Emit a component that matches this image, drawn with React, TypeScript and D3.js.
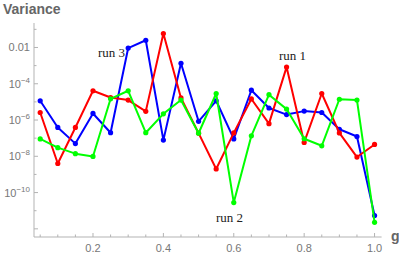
import React, { useEffect, useRef } from "react";
import * as d3 from "d3";

// g values shared by all runs
const gValues = [0.05, 0.1, 0.15, 0.2, 0.25, 0.3, 0.35, 0.4, 0.45, 0.5, 0.55, 0.6, 0.65, 0.7, 0.75, 0.8, 0.85, 0.9, 0.95, 1.0];

const run1 = [2.6e-6, 4.0e-9, 3.9e-7, 4.1e-5, 1.74e-5, 1.26e-5, 3.0e-6, 5.9e-2, 1.66e-5, 1.9e-7, 2.0e-9, 1.95e-7, 1.45e-5, 6.3e-7, 8.3e-4, 5.8e-8, 2.9e-5, 1.95e-7, 9.1e-9, 4.5e-8];
const run2 = [9.1e-8, 3.0e-8, 1.4e-8, 9.8e-9, 1.48e-5, 4.1e-5, 2.0e-7, 2.2e-6, 1.26e-5, 1.86e-7, 2.9e-5, 2.8e-11, 1.35e-7, 2.5e-5, 4.0e-6, 9.3e-8, 3.8e-8, 1.4e-5, 1.26e-5, 2.3e-12];
const run3 = [1.15e-5, 3.9e-7, 5.0e-8, 2.3e-6, 2.0e-7, 9.3e-3, 2.5e-2, 7.8e-8, 1.35e-3, 8.5e-7, 1.15e-5, 9.1e-8, 4.4e-5, 4.6e-6, 2.0e-6, 3.1e-6, 2.6e-6, 3.1e-7, 1.23e-7, 5.4e-12];

const xTicks = [0.2, 0.4, 0.6, 0.8, 1.0];
const xMinorTicks = d3.range(1, 21).map(i => i * 0.05);
const yLabelExps = [-2, -4, -6, -8, -10];
const yTickExps = d3.range(-12, 0);

const series = [
  { name: "run 3", values: run3, color: "#0000ff" },
  { name: "run 1", values: run1, color: "#ff0000" },
  { name: "run 2", values: run2, color: "#00ff00" },
];

const W = 399;
const H = 256;

const App = () => {
  const ref = useRef<SVGGElement>(null);

  const x = d3.scaleLinear().domain([0.0324, 1.02]).range([34, 381.6]);
  const y = d3.scaleLog().domain([Math.pow(10, -12.45), Math.pow(10, -0.65)]).range([237, 23]);

  useEffect(() => {
    document.body.style.margin = "0";
    const g = d3.select(ref.current);
    g.selectAll("*").remove();

    const axisColor = "#b3b3b3";
    const labelColor = "#777";

    // axes lines
    g.append("line")
      .attr("x1", x.range()[0]).attr("x2", x.range()[1])
      .attr("y1", 237).attr("y2", 237)
      .attr("stroke", axisColor);
    g.append("line")
      .attr("x1", 34).attr("x2", 34)
      .attr("y1", 23).attr("y2", 237)
      .attr("stroke", axisColor);

    // x ticks
    g.selectAll("line.xt")
      .data(xMinorTicks)
      .enter()
      .append("line")
      .attr("class", "xt")
      .attr("x1", d => x(d)).attr("x2", d => x(d))
      .attr("y1", 237)
      .attr("y2", d => 237 - (Math.abs(d * 5 - Math.round(d * 5)) < 1e-6 ? 4 : 2.5))
      .attr("stroke", axisColor);

    g.selectAll("text.xl")
      .data(xTicks)
      .enter()
      .append("text")
      .attr("class", "xl")
      .attr("x", d => x(d))
      .attr("y", 252)
      .attr("text-anchor", "middle")
      .style("font-family", "Liberation Sans, Arial, sans-serif")
      .style("font-size", "11px")
      .style("fill", labelColor)
      .text(d => d3.format(".1f")(d));

    // y ticks
    g.selectAll("line.yt")
      .data(yTickExps)
      .enter()
      .append("line")
      .attr("class", "yt")
      .attr("x1", 34)
      .attr("x2", d => 34 + (d % 2 === 0 ? 4 : 2.5))
      .attr("y1", d => y(Math.pow(10, d)))
      .attr("y2", d => y(Math.pow(10, d)))
      .attr("stroke", axisColor);

    const yl = g.selectAll("text.yl")
      .data(yLabelExps)
      .enter()
      .append("text")
      .attr("class", "yl")
      .attr("x", 30)
      .attr("y", d => y(Math.pow(10, d)) + 4)
      .attr("text-anchor", "end")
      .style("font-family", "Liberation Sans, Arial, sans-serif")
      .style("font-size", "11px")
      .style("fill", labelColor);

    yl.each(function (d) {
      const t = d3.select(this);
      if (d === -2) {
        t.text("0.01");
      } else {
        t.append("tspan").text("10");
        t.append("tspan")
          .attr("dy", -5)
          .style("font-size", "8px")
          .text("\u2212" + Math.abs(d));
      }
    });

    // series
    const line = d3.line<number>()
      .x((d, i) => x(gValues[i]))
      .y(d => y(d));

    series.forEach(s => {
      g.append("path")
        .attr("d", line(s.values))
        .attr("fill", "none")
        .attr("stroke", s.color)
        .attr("stroke-width", 2)
        .attr("stroke-linejoin", "round");
      g.selectAll(null)
        .data(s.values)
        .enter()
        .append("circle")
        .attr("cx", (d, i) => x(gValues[i]))
        .attr("cy", d => y(d))
        .attr("r", 2.6)
        .attr("fill", s.color);
    });

    // run labels
    const runLabels = [
      { text: "run 3", x: 125, y: 57 },
      { text: "run 1", x: 306, y: 60 },
      { text: "run 2", x: 243, y: 222 },
    ];
    g.selectAll("text.run")
      .data(runLabels)
      .enter()
      .append("text")
      .attr("class", "run")
      .attr("x", d => d.x)
      .attr("y", d => d.y)
      .attr("text-anchor", "end")
      .style("font-family", "Liberation Serif, Times New Roman, serif")
      .style("font-size", "13px")
      .style("fill", "#222")
      .text(d => d.text);

    // axis titles
    g.append("text")
      .attr("x", 3)
      .attr("y", 14)
      .style("font-family", "Liberation Sans, Arial, sans-serif")
      .style("font-size", "14px")
      .style("font-weight", "bold")
      .style("fill", "#666")
      .text("Variance");
    g.append("text")
      .attr("x", 391)
      .attr("y", 241)
      .style("font-family", "Liberation Sans, Arial, sans-serif")
      .style("font-size", "14px")
      .style("font-weight", "bold")
      .style("fill", "#666")
      .text("g");
  }, []);

  return (
    <svg width={W} height={H} style={{ display: "block" }}>
      <rect width={W} height={H} fill="white" />
      <g ref={ref} />
    </svg>
  );
};

export default App;
